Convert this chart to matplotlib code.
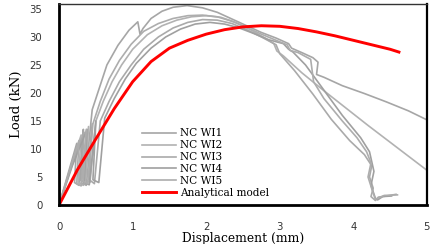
"""Load-displacement curves, NC WI tests vs analytical model."""
import matplotlib

matplotlib.use("Agg")
import matplotlib.pyplot as plt

# ---- data ----
labels = ["NC WI1", "NC WI2", "NC WI3", "NC WI4", "NC WI5"]

x1 = [0, 0.12, 0.24, 0.21, 0.27, 0.33, 0.29, 0.35, 0.45, 0.55, 0.65, 0.80, 0.95, 1.07,
      1.10, 1.14, 1.25, 1.40, 1.55, 1.74, 1.95, 2.15, 2.35, 2.55, 2.75, 2.95, 3.12, 3.16,
      3.30, 3.45, 3.52, 3.50, 3.60, 3.85, 4.15, 4.45, 4.75, 5.0]
y1 = [0, 5.5, 11, 4, 3.5, 13.5, 4.5, 4, 17, 21, 25, 28.5, 31.2, 32.7,
      30.5, 31.5, 33.3, 34.6, 35.3, 35.6, 35.2, 34.4, 33.2, 32, 30.8, 29.8, 28.8, 28,
      27.2, 26.3, 25.5, 23.3, 22.8, 21.3, 19.9, 18.4, 16.8, 15.2]

x2 = [0, 0.14, 0.30, 0.26, 0.33, 0.40, 0.36, 0.42, 0.50, 0.60, 0.72, 0.85, 1.00, 1.20,
      1.40, 1.60, 1.80, 2.00, 2.20, 2.40, 2.60, 2.80, 2.92, 2.96, 3.05, 3.30, 3.60, 3.90,
      4.20, 4.50, 4.80, 5.0]
y2 = [0, 6, 12.5, 4, 3.5, 14, 4.5, 4, 15, 18.5, 22, 25, 27.8, 30.4,
      32, 33, 33.6, 33.8, 33.5, 32.6, 31.3, 29.8, 28.8, 27.5, 26.6, 23.6, 20.4, 17.3,
      14.2, 11.2, 8.2, 6.2]

x3 = [0, 0.16, 0.34, 0.30, 0.37, 0.45, 0.41, 0.48, 0.56, 0.68, 0.82, 0.98, 1.15, 1.35,
      1.55, 1.75, 1.95, 2.15, 2.35, 2.55, 2.75, 2.95, 3.00, 3.20, 3.45, 3.70, 3.95, 4.15,
      4.25, 4.22, 4.27, 4.24, 4.30, 4.34, 4.45, 4.58]
y3 = [0, 6.5, 13, 4, 3.5, 14.5, 4.5, 3.8, 15, 18.5, 22, 25, 27.8, 30,
      31.6, 32.6, 33.1, 33, 32.4, 31.3, 30, 28.6, 27, 24, 19.8, 15.3, 11.5, 9,
      7, 5, 3, 1.5, 0.8, 1.4, 1.6, 1.9]

x4 = [0, 0.18, 0.38, 0.34, 0.41, 0.50, 0.46, 0.54, 0.62, 0.75, 0.90, 1.05, 1.25, 1.45,
      1.65, 1.85, 2.05, 2.25, 2.45, 2.65, 2.85, 3.05, 3.12, 3.18, 3.35, 3.60, 3.85, 4.10,
      4.22, 4.28, 4.24, 4.30, 4.33, 4.40, 4.52]
y4 = [0, 7, 13.5, 4, 3.6, 15, 4.5, 4, 15.5, 19, 22.5, 25.3, 28, 30,
      31.4, 32.3, 32.6, 32.3, 31.6, 30.6, 29.5, 28.8, 27.8, 27.3, 25, 20.5, 16, 12,
      9.5, 6, 3.5, 1.2, 0.9, 1.5, 1.6]

x5 = [0, 0.13, 0.27, 0.24, 0.30, 0.37, 0.33, 0.39, 0.46, 0.56, 0.68, 0.82, 0.98, 1.15,
      1.35, 1.55, 1.75, 1.95, 2.15, 2.35, 2.55, 2.75, 2.95, 3.10, 3.14, 3.25, 3.42, 3.46,
      3.60, 3.85, 4.05, 4.18, 4.24, 4.20, 4.26, 4.30, 4.42, 4.60]
y5 = [0, 5.5, 11.5, 3.8, 3.4, 13.5, 4.2, 3.8, 14.5, 18.5, 22.5, 25.8, 28.7, 31,
      32.4, 33.3, 33.8, 33.9, 33.6, 32.8, 31.7, 30.5, 29.4, 28.6, 27.6, 27.2, 26, 22,
      19, 15, 12, 9.5, 7.5, 5, 2.5, 1.0, 1.7, 1.8]

x_model = [0, 0.25, 0.5, 0.75, 1.0, 1.25, 1.5, 1.75, 2.0, 2.25, 2.5, 2.75, 3.0, 3.25,
           3.5, 3.75, 4.0, 4.25, 4.5, 4.62]
y_model = [0, 6.3, 11.8, 17.2, 22, 25.6, 28, 29.4, 30.5, 31.3, 31.8, 32.0, 31.9, 31.5,
           30.9, 30.2, 29.4, 28.6, 27.8, 27.3]

tests = [(x1, y1), (x2, y2), (x3, y3), (x4, y4), (x5, y5)]
grays = ["#a6a6a6", "#b2b2b2", "#aaaaaa", "#a0a0a0", "#adadad"]

# ---- plot ----
fig = plt.figure(figsize=(4.41, 2.44), dpi=100)
ax = fig.add_axes([0.134, 0.16, 0.834, 0.824])

for (xs, ys), lab, c in zip(tests, labels, grays):
    ax.plot(xs, ys, color=c, lw=1.2, label=lab)
ax.plot(x_model, y_model, color="#ff0000", lw=2.1, label="Analytical model")

ax.set_xlim(0, 5)
ax.set_ylim(0, 35.9)
ax.set_xticks([0, 1, 2, 3, 4, 5])
ax.set_yticks([0, 5, 10, 15, 20, 25, 30, 35])
ax.tick_params(length=0, labelsize=7.3, labelcolor="#333333")
ax.tick_params(axis="y", pad=12)
ax.tick_params(axis="x", pad=12)

for side in ("left", "bottom"):
    ax.spines[side].set_linewidth(2.0)
ax.spines["right"].set_linewidth(1.6)
ax.spines["top"].set_linewidth(1.0)
ax.spines["top"].set_color("#333333")

ax.set_xlabel("Displacement (mm)", family="DejaVu Serif", fontsize=8.8, labelpad=0.5)
ax.set_ylabel("Load (kN)", family="DejaVu Serif", fontsize=9.5, labelpad=5)

ax.legend(loc="lower left", bbox_to_anchor=(0.225, 0.035), frameon=False,
          prop={"family": "DejaVu Serif", "size": 7.6},
          handlelength=3.2, handletextpad=0.45, labelspacing=0.18,
          borderpad=0, borderaxespad=0)

fig.savefig("out.png", dpi=100)
